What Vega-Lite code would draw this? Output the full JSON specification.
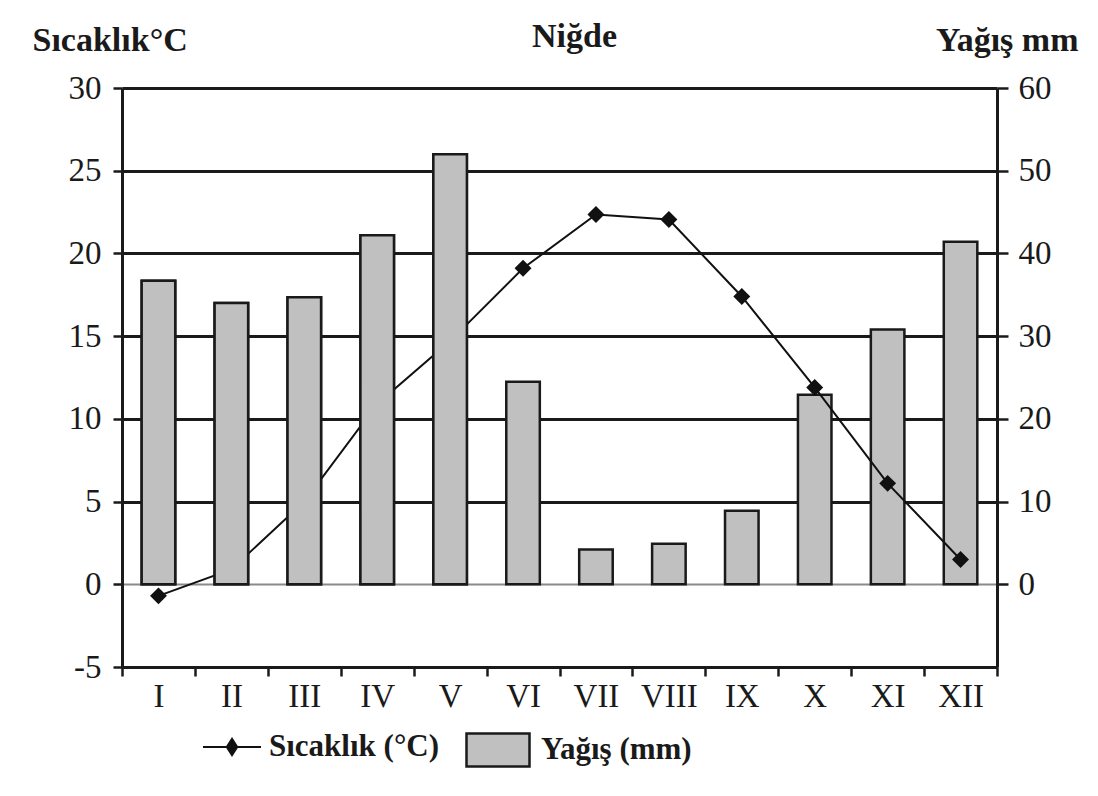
{
  "$schema": "https://vega.github.io/schema/vega-lite/v6.json",
  "autosize": "none",
  "width": 875,
  "height": 579,
  "padding": {"left": 122, "top": 88, "right": 101, "bottom": 129},
  "background": "white",
  "config": {"view": {"stroke": null}, "font": "Liberation Serif"},
  "title": {"text": "Niğde", "font": "Liberation Serif", "fontSize": 34, "fontWeight": "bold", "color": "#1a1a1a", "anchor": "middle", "dx": 15, "dy": 58, "offset": 0, "baseline": "alphabetic"},
  "data": {"values": [
    {"ay": "I", "sicaklik": -0.7, "yagis": 36.7},
    {"ay": "II", "sicaklik": 0.9, "yagis": 34.0},
    {"ay": "III", "sicaklik": 5.0, "yagis": 34.7},
    {"ay": "IV", "sicaklik": 10.9, "yagis": 42.2},
    {"ay": "V", "sicaklik": 14.7, "yagis": 52.0},
    {"ay": "VI", "sicaklik": 19.1, "yagis": 24.5},
    {"ay": "VII", "sicaklik": 22.35, "yagis": 4.2},
    {"ay": "VIII", "sicaklik": 22.05, "yagis": 4.9},
    {"ay": "IX", "sicaklik": 17.4, "yagis": 8.9},
    {"ay": "X", "sicaklik": 11.9, "yagis": 22.9},
    {"ay": "XI", "sicaklik": 6.1, "yagis": 30.8},
    {"ay": "XII", "sicaklik": 1.5, "yagis": 41.4}
  ]},
  "encoding": {
    "x": {
      "field": "ay", "type": "ordinal",
      "sort": ["I", "II", "III", "IV", "V", "VI", "VII", "VIII", "IX", "X", "XI", "XII"],
      "scale": {"paddingInner": 0, "paddingOuter": 0},
      "axis": {
        "title": null, "labelAngle": 0, "labelFont": "Liberation Serif", "labelFontSize": 33,
        "labelColor": "#1a1a1a", "labelPadding": 4, "tickBand": "extent", "tickSize": 9,
        "tickWidth": 2.5, "tickColor": "#1a1a1a", "domainColor": "#1a1a1a", "domainWidth": 3, "grid": false
      }
    }
  },
  "layer": [
    {
      "mark": {"type": "bar", "width": {"band": 0.46}, "stroke": "#1a1a1a", "strokeWidth": 2.5},
      "encoding": {
        "y": {
          "field": "yagis", "type": "quantitative",
          "scale": {"domain": [-10, 60], "nice": false, "zero": false},
          "axis": {
            "orient": "right", "values": [0, 10, 20, 30, 40, 50, 60],
            "title": "Yağış mm", "titleAngle": 0, "titleAlign": "right", "titleBaseline": "alphabetic",
            "titleX": 81, "titleY": -38, "titleFont": "Liberation Serif", "titleFontSize": 34,
            "titleFontWeight": "bold", "titleColor": "#1a1a1a",
            "labelFont": "Liberation Serif", "labelFontSize": 33, "labelColor": "#1a1a1a", "labelPadding": 10,
            "tickSize": 11, "tickWidth": 2.5, "tickColor": "#1a1a1a",
            "domainColor": "#1a1a1a", "domainWidth": 3, "grid": false
          }
        },
        "fill": {
          "datum": "Yağış (mm)",
          "scale": {"range": ["#c0c0c0"]},
          "legend": {
            "orient": "none", "legendX": 343, "legendY": 629, "title": null, "padding": 0,
            "symbolType": "M-1,-0.52H1V0.52H-1Z", "symbolSize": 3969,
            "symbolStrokeColor": "#1a1a1a", "symbolStrokeWidth": 2.5,
            "labelFont": "Liberation Serif", "labelFontSize": 31, "labelFontWeight": "bold",
            "labelColor": "#1a1a1a", "labelOffset": 10, "labelLimit": 400
          }
        }
      }
    },
    {
      "mark": {"type": "line", "strokeWidth": 2, "color": "#111",
        "point": {"shape": "diamond", "filled": true, "size": 200, "color": "#111"}},
      "encoding": {
        "y": {
          "field": "sicaklik", "type": "quantitative",
          "scale": {"domain": [-5, 30], "nice": false, "zero": false},
          "axis": {
            "orient": "left", "values": [-5, 0, 5, 10, 15, 20, 25, 30],
            "labelExpr": "datum.value < 0 ? '-' + abs(datum.value) : datum.label",
            "title": "Sıcaklık°C", "titleAngle": 0, "titleAlign": "left", "titleBaseline": "alphabetic",
            "titleX": -90, "titleY": -38, "titleFont": "Liberation Serif", "titleFontSize": 34,
            "titleFontWeight": "bold", "titleColor": "#1a1a1a",
            "labelFont": "Liberation Serif", "labelFontSize": 33, "labelColor": "#1a1a1a", "labelPadding": 12,
            "tickSize": 9, "tickWidth": 2.5, "tickColor": "#1a1a1a",
            "domainColor": "#1a1a1a", "domainWidth": 3,
            "grid": true,
            "gridColor": {"condition": {"test": "datum.value === 0", "value": "#8a8a8a"}, "value": "#1a1a1a"},
            "gridWidth": {"condition": {"test": "datum.value === 0", "value": 2}, "value": 3}
          }
        },
        "stroke": {
          "datum": "Sıcaklık (°C)",
          "scale": {"range": ["#111"]},
          "legend": {
            "orient": "none", "legendX": 80, "legendY": 629, "title": null, "padding": 0,
            "symbolType": "M-1,0H1M0,-0.28L0.18,0L0,0.28L-0.18,0Z", "symbolSize": 3364,
            "symbolStrokeWidth": 2, "symbolFillColor": "#111", "symbolStrokeColor": "#111",
            "labelFont": "Liberation Serif", "labelFontSize": 31, "labelFontWeight": "bold",
            "labelColor": "#1a1a1a", "labelOffset": 7, "labelLimit": 400
          }
        }
      }
    },
    {
      "transform": [{"filter": {"field": "ay", "oneOf": ["I", "II", "III", "IV", "V"]}}],
      "mark": {"type": "bar", "width": {"band": 0.46}, "fill": "#c0c0c0", "stroke": "#1a1a1a", "strokeWidth": 2.5},
      "encoding": {
        "y": {
          "field": "yagis", "type": "quantitative",
          "scale": {"domain": [-10, 60], "nice": false, "zero": false},
          "axis": null
        }
      }
    }
  ],
  "resolve": {"scale": {"y": "independent", "fill": "independent", "stroke": "independent"}}
}
